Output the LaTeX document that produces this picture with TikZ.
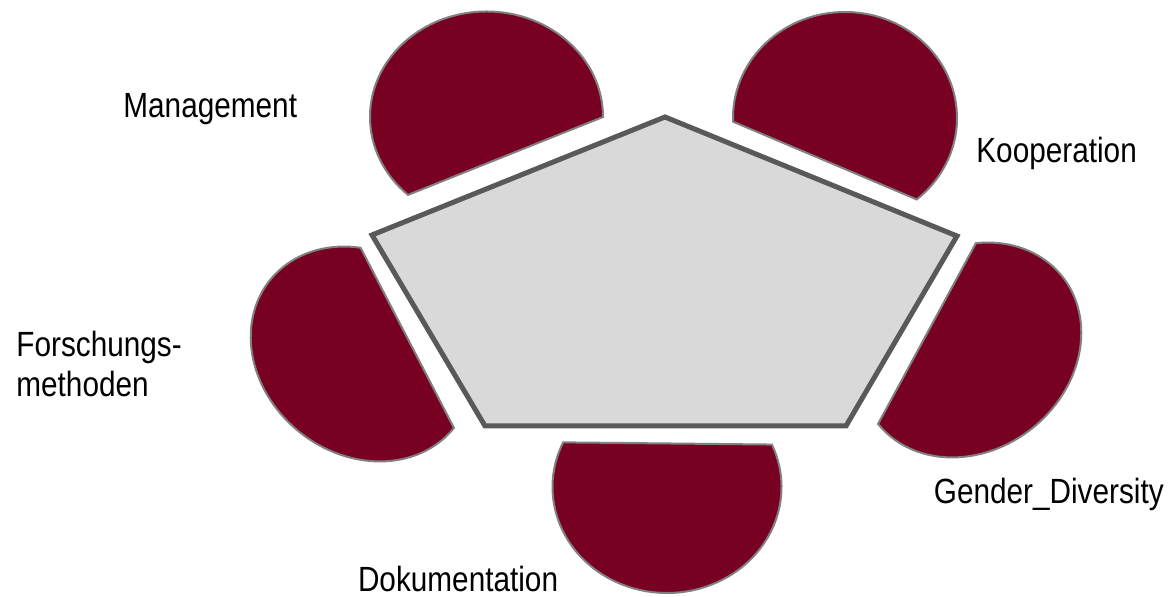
\documentclass[tikz,border=0pt]{standalone}
\usepackage{fontspec}
\setmainfont{Liberation Sans}[FakeStretch=0.85]
\definecolor{wine}{RGB}{119,0,35}
\definecolor{rimgray}{RGB}{128,128,128}
\definecolor{panegray}{RGB}{217,217,217}
\definecolor{edgegray}{RGB}{89,89,89}

\begin{document}
\begin{tikzpicture}[x=0.5pt,y=-0.5pt,
  seat/.style={fill=wine,draw=rimgray,line width=1pt},
  lbl/.style={anchor=base west,inner sep=0pt,align=left,font=\fontsize{17.5}{20}\selectfont}]
\useasboundingbox (0,0) rectangle (1169,597);
% table
\filldraw[fill=panegray,draw=edgegray,line width=2.5pt] (665,117)--(957,236)--(846,426)--(485,426)--(372,235)--cycle;
% seats round the table
\begin{scope}[shift={(486.5,117)}]
\draw[seat] (0:116.5 and 105.5) arc[start angle=0,end angle=-227.6,x radius=116.5,y radius=105.5] -- cycle;
\end{scope}
\begin{scope}[shift={(845,118)}]
\draw[seat] (178:112 and 106) arc[start angle=178,end angle=410.2,x radius=112,y radius=106] -- cycle;
\end{scope}
\begin{scope}[shift={(970,350)},rotate=38.8]
\draw[seat] (-52.7:118 and 100) arc[start angle=-52.7,end angle=180,x radius=118,y radius=100] -- cycle;
\end{scope}
\begin{scope}[shift={(667,487)}]
\draw[seat] (-23.6:114.5 and 106) arc[start angle=-23.6,end angle=204.9,x radius=114.5,y radius=106] -- cycle;
\end{scope}
\begin{scope}[shift={(362,354)},rotate=-38.8]
\draw[seat] (235:118 and 100) arc[start angle=235,end angle=0,x radius=118,y radius=100] -- cycle;
\end{scope}
% labels
\node[lbl] (mgmt) at (123,118) {Management};
\node[lbl] (koop) at (976,162.5) {Kooperation};
\node[lbl] (gender) at (933.5,504) {Gender\_Diversity};
\node[lbl] (doku) at (357.6,591.7) {Dokumentation};
\node[lbl] (forsch) at (16,396.7) {Forschungs-\\methoden};
\end{tikzpicture}
\end{document}
